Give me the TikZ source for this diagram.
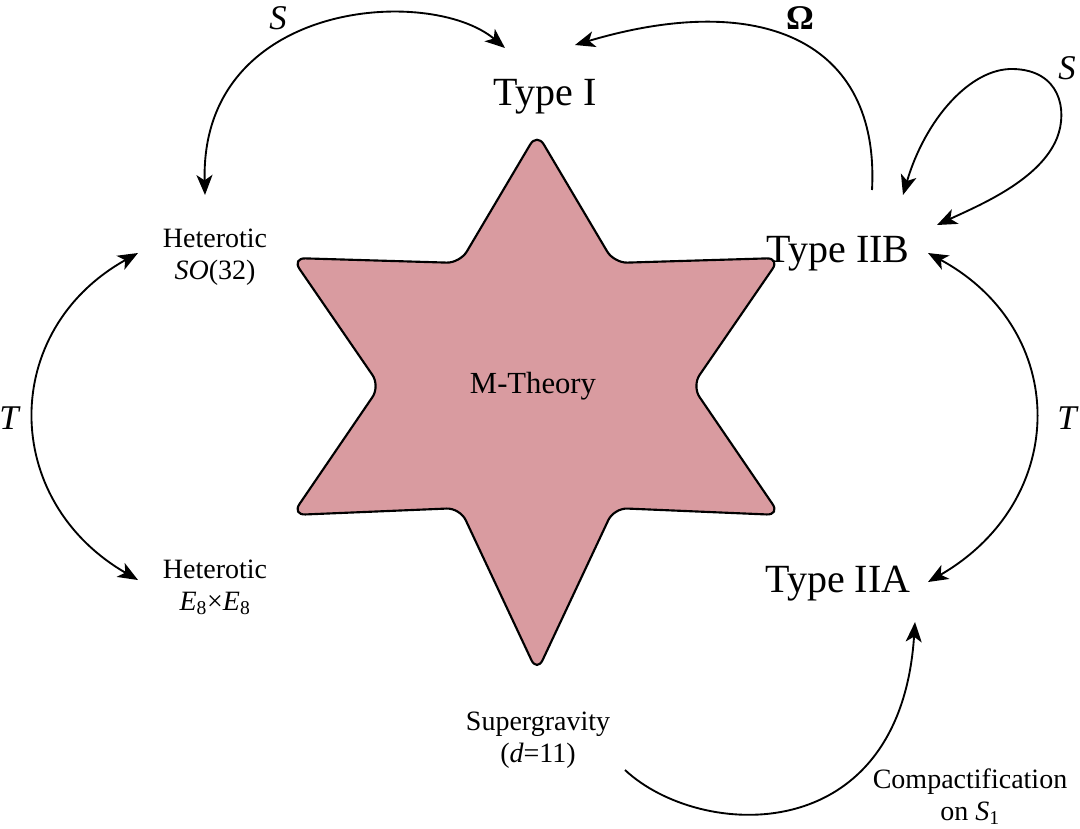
\documentclass[tikz,border=0pt]{standalone}
\usepackage{fontspec}
\setmainfont{Liberation Serif}
\usetikzlibrary{arrows.meta}
\definecolor{starfill}{RGB}{217,155,160}
\begin{document}
\begin{tikzpicture}[x=0.75pt,y=-0.75pt,
  big/.style={font=\fontsize{30}{33}\selectfont},
  small/.style={font=\fontsize{21}{24}\selectfont,align=center},
  lab/.style={font=\fontsize{26}{28}\selectfont},
  tip/.style={Stealth[length=15pt,width=12pt,inset=4pt]},
  arr/.style={line width=1.4pt,-{Stealth[length=15pt,width=12pt,inset=4pt]}},
  darr/.style={line width=1.4pt,{Stealth[length=15pt,width=12pt,inset=4pt]}-{Stealth[length=15pt,width=12pt,inset=4pt]}}]
\useasboundingbox (0,0) rectangle (1080,828);
\fill[starfill,draw=black,line width=1.6pt,rounded corners=10pt]
  (537,133) -- (614,263) -- (780,258) -- (692,386) -- (780,515) -- (614,508)
  -- (537,672) -- (460,508) -- (292,515) -- (380,386) -- (292,258) -- (460,263) -- cycle;
\node (m) at (533,386) {\fontsize{23}{26}\selectfont M-Theory};
\node[big] (t1) at (545,97) {Type I};
\node[big] (t2b) at (838,254) {Type IIB};
\node[big] (t2a) at (838,584) {Type IIA};
\node[small] (hso) at (215,257) {Heterotic\\\textit{SO}(32)};
\node[small] (he) at (215,587) {Heterotic\\\textit{E}\textsubscript{8}×\textit{E}\textsubscript{8}};
\node[small] (sg) at (538,740) {Supergravity\\(\textit{d}=11)};
\node[small] (cp) at (970,797) {Compactification\\on \textit{S}\textsubscript{1}};
\node[lab] (ls) at (278,18) {\textit{S}};
\node[lab] (lo) at (800,18) {\textbf{Ω}};
\node[lab] (ls2) at (1067,68) {\textit{S}};
\node[lab] (lt1) at (10,418) {\textit{T}};
\node[lab] (lt2) at (1068,418) {\textit{T}};
\coordinate (a1) at (505,48);
\coordinate (a2) at (205,195);
\draw[darr] (a1) .. controls (430,-15) and (200,0) .. (a2);
\coordinate (o1) at (872,190);
\coordinate (o2) at (575,45);
\draw[arr] (o1) .. controls (880,40) and (760,-10) .. (o2);
\coordinate (l1) at (903,195);
\coordinate (l2) at (937,225);
\draw[darr] (l1) .. controls (925,120) and (970,68) .. (1013,69) .. controls (1060,70) and (1068,110) .. (1057,138) .. controls (1040,180) and (980,205) .. (l2);
\coordinate (h1) at (138,253);
\coordinate (h2) at (138,580);
\draw[darr] (h1) .. controls (0,330) and (0,500) .. (h2);
\coordinate (b1) at (928,253);
\coordinate (b2) at (928,582);
\draw[darr] (b1) .. controls (1070,330) and (1070,500) .. (b2);
\coordinate (c1) at (625,770);
\coordinate (c2) at (915,622);
\draw[arr] (c1) .. controls (700,840) and (900,850) .. (c2);
\end{tikzpicture}
\end{document}
